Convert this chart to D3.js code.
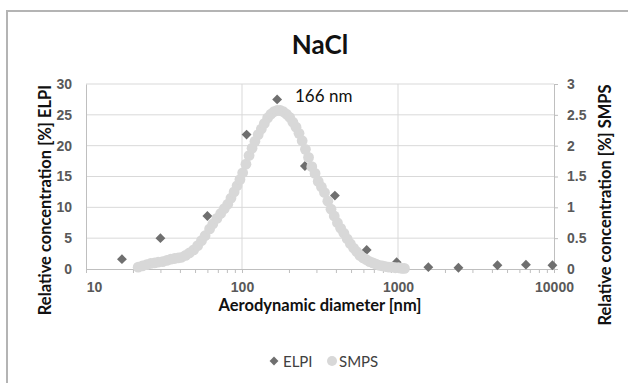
<!DOCTYPE html>
<html>
<head>
<meta charset="utf-8">
<script src="https://cdn.jsdelivr.net/npm/d3@7"></script>
<style>
  html, body { margin: 0; padding: 0; background: #fff; }
  svg { display: block; font-family: Lato, "Open Sans", sans-serif; }
</style>
</head>
<body>
<svg id="chart" width="628" height="383"></svg>
<script>
// ELPI impactor stages: diameter [nm] and relative concentration [%]
const elpiDiameter = [17, 30, 60, 107, 168, 253, 394, 630, 980, 1565, 2440, 4340, 6610, 9770];
const elpiValue    = [1.6, 5.0, 8.6, 21.8, 27.5, 16.7, 11.9, 3.1, 1.1, 0.3, 0.2, 0.6, 0.7, 0.6];

// SMPS scan: mobility diameter [nm] and relative concentration [%]
const smpsDiameter = [21.6, 23, 24.5, 26, 27.5, 29, 31, 33, 35, 37, 39, 41, 43.5, 46, 49, 52, 55, 58,
  62, 65, 69, 73, 77, 81, 85, 89, 93, 97, 101, 106, 111, 116, 121, 127, 133, 139, 146, 153, 160,
  168, 176, 184, 193, 202, 212, 222, 232, 243, 255, 267, 280, 294, 308, 323, 338, 355, 372, 390,
  409, 429, 450, 472, 495, 519, 544, 570, 598, 627, 658, 690, 723, 758, 795, 834, 874, 917, 962,
  1009, 1058, 1100];
const smpsValue = [0.03, 0.05, 0.07, 0.09, 0.10, 0.11, 0.12, 0.14, 0.16, 0.17, 0.18, 0.19, 0.22, 0.26,
  0.31, 0.38, 0.46, 0.54, 0.65, 0.73, 0.82, 0.90, 0.98, 1.05, 1.15, 1.25, 1.35, 1.45, 1.56, 1.70,
  1.84, 1.96, 2.07, 2.18, 2.27, 2.36, 2.45, 2.51, 2.55, 2.57, 2.57, 2.55, 2.51, 2.46, 2.38, 2.30,
  2.20, 2.08, 1.94, 1.81, 1.66, 1.55, 1.42, 1.33, 1.24, 1.10, 0.97, 0.86, 0.75, 0.66, 0.58, 0.49,
  0.41, 0.34, 0.28, 0.22, 0.18, 0.15, 0.12, 0.10, 0.08, 0.06, 0.05, 0.04, 0.03, 0.03, 0.02, 0.02,
  0.01, 0.01];

const xTicks = [10, 100, 1000, 10000];
const yLeftTicks = [0, 5, 10, 15, 20, 25, 30];
const yRightTicks = [0, 0.5, 1, 1.5, 2, 2.5, 3];
const peakLabel = "166 nm";

const svg = d3.select("#chart");
const plot = { left: 86, right: 554, top: 84, bottom: 269 };

const x = d3.scaleLog().domain([10, 10000]).range([plot.left, plot.right]);
const yL = d3.scaleLinear().domain([0, 30]).range([plot.bottom, plot.top]);
const yR = d3.scaleLinear().domain([0, 3]).range([plot.bottom, plot.top]);

// chart frame
svg.append("rect").attr("x", 7).attr("y", 11).attr("width", 660).attr("height", 420)
  .attr("fill", "none").attr("stroke", "#b4b4b4").attr("stroke-width", 2);

// horizontal gridlines
svg.append("g").selectAll("line").data(yLeftTicks.filter(d => d > 0)).join("line")
  .attr("x1", plot.left).attr("x2", plot.right)
  .attr("y1", d => yL(d)).attr("y2", d => yL(d))
  .attr("stroke", "#d9d9d9").attr("stroke-width", 1);

// vertical gridlines at decades
svg.append("g").selectAll("line").data([100, 1000]).join("line")
  .attr("x1", d => x(d)).attr("x2", d => x(d))
  .attr("y1", plot.top).attr("y2", plot.bottom)
  .attr("stroke", "#d9d9d9").attr("stroke-width", 1);

// x axis with minor log ticks below the baseline
const minor = [];
for (let dec = 10; dec < 10000; dec *= 10) for (let k = 1; k < 10; k++) minor.push(dec * k);
minor.push(10000);
const xAxis = svg.append("g").attr("transform", `translate(0,${plot.bottom})`)
  .call(d3.axisBottom(x).tickValues(minor).tickSize(4).tickFormat(d => xTicks.includes(d) ? d : ""));
xAxis.select(".domain").attr("stroke", "#bfbfbf");
xAxis.selectAll(".tick line").attr("stroke", "#bfbfbf");
xAxis.selectAll(".tick text").attr("fill", "#595959").attr("font-size", 14).attr("font-weight", "bold")
  .attr("dy", "1.15em").attr("dx", d => d === 10 ? 8 : 0);

// left axis
const leftAxis = svg.append("g").attr("transform", `translate(${plot.left},0)`)
  .call(d3.axisLeft(yL).tickValues(yLeftTicks).tickSize(0).tickPadding(14));
leftAxis.select(".domain").attr("stroke", "#bfbfbf");
leftAxis.selectAll(".tick text").attr("fill", "#595959").attr("font-size", 14).attr("font-weight", "bold");

// right axis
const rightAxis = svg.append("g").attr("transform", `translate(${plot.right},0)`)
  .call(d3.axisRight(yR).tickValues(yRightTicks).tickSize(4).tickPadding(9).tickFormat(d3.format("~g")));
rightAxis.select(".domain").attr("stroke", "#bfbfbf");
rightAxis.selectAll(".tick line").attr("stroke", "#bfbfbf");
rightAxis.selectAll(".tick text").attr("fill", "#595959").attr("font-size", 14).attr("font-weight", "bold");

// ELPI diamonds
const diamond = d3.symbol().type(d3.symbolDiamond2).size(62);
svg.append("g").selectAll("path").data(elpiDiameter).join("path")
  .attr("d", diamond)
  .attr("transform", (d, i) => `translate(${x(d)},${yL(elpiValue[i])})`)
  .attr("fill", "#6f6f6f");

// SMPS circles
svg.append("g").selectAll("circle").data(smpsDiameter).join("circle")
  .attr("cx", d => x(d)).attr("cy", (d, i) => yR(smpsValue[i])).attr("r", 5.4)
  .attr("fill", "#d8d8d8");

// peak annotation
svg.append("text").attr("x", 295).attr("y", 102).attr("font-size", 17).attr("fill", "#111")
  .text(peakLabel);

// title
svg.append("text").attr("x", (plot.left + plot.right) / 2).attr("y", 54).attr("text-anchor", "middle")
  .attr("font-size", 26).attr("font-weight", "bold").attr("fill", "#111").text("NaCl");

// axis titles
svg.append("text").attr("x", (plot.left + plot.right) / 2).attr("y", 311).attr("text-anchor", "middle")
  .attr("font-size", 16.5).attr("font-weight", "bold").attr("fill", "#111").text("Aerodynamic diameter [nm]");
svg.append("text").attr("transform", "translate(51,200) rotate(-90)").attr("text-anchor", "middle")
  .attr("font-size", 16.5).attr("font-weight", "bold").attr("fill", "#111").text("Relative concentration [%] ELPI");
svg.append("text").attr("transform", "translate(611,205) rotate(-90)").attr("text-anchor", "middle")
  .attr("font-size", 16.5).attr("font-weight", "bold").attr("fill", "#111").text("Relative concentration [%] SMPS");

// legend
const lg = svg.append("g").attr("transform", "translate(0,361)");
lg.append("path").attr("d", d3.symbol().type(d3.symbolDiamond2).size(50)).attr("transform", "translate(274,0)").attr("fill", "#6f6f6f");
lg.append("text").attr("x", 283).attr("y", 5.5).attr("font-size", 15).attr("fill", "#404040").text("ELPI");
lg.append("circle").attr("cx", 332).attr("cy", 0).attr("r", 5).attr("fill", "#d8d8d8");
lg.append("text").attr("x", 339).attr("y", 5.5).attr("font-size", 15).attr("fill", "#404040").text("SMPS");
</script>
</body>
</html>
